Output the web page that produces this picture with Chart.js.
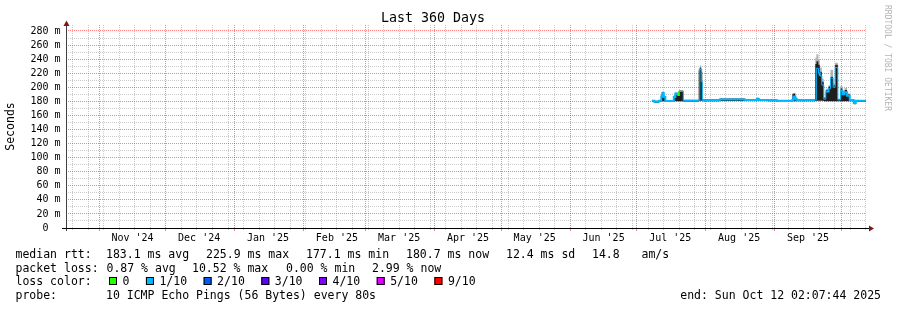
<!DOCTYPE html>
<html>
<head>
<meta charset="utf-8">
<title>Last 360 Days</title>
<script src="https://cdn.jsdelivr.net/npm/chart.js@4/dist/chart.umd.min.js"></script>
<style>
  html, body { margin: 0; padding: 0; background: #fff; }
  canvas { display: block; }
</style>
</head>
<body>
<canvas id="rtt" width="897" height="310"></canvas>
<script>
// 360 day window, probe local time
const windowStart = '2024-10-17T02:07:44';
const windowEnd = '2025-10-12T02:07:44';

// month grid (red) and labels, weekly grid (grey), y grid every 10 ms
const monthStarts = ['2024-11-01', '2024-12-01', '2025-01-01', '2025-02-01', '2025-03-01', '2025-04-01',
                     '2025-05-01', '2025-06-01', '2025-07-01', '2025-08-01', '2025-09-01', '2025-10-01'];
const monthLabels = ["Nov '24", "Dec '24", "Jan '25", "Feb '25", "Mar '25", "Apr '25",
                     "May '25", "Jun '25", "Jul '25", "Aug '25", "Sep '25"];
const firstWeekLine = '2024-10-20';
const yTicks = [0, 10, 20, 30, 40, 50, 60, 70, 80, 90, 100, 110, 120, 130, 140,
                150, 160, 170, 180, 190, 200, 210, 220, 230, 240, 250, 260, 270, 280];

// samples: each value holds until the next sample time (ms)
const sampleTimes = [
  '2025-07-07T17:00', '2025-07-08T20:00', '2025-07-10T21:00', '2025-07-11T23:00', '2025-07-12T10:00',
  '2025-07-13T02:00', '2025-07-13T19:00', '2025-07-17T14:00', '2025-07-18T07:00', '2025-07-19T04:00',
  '2025-07-19T21:00', '2025-07-21T21:00', '2025-07-28T19:00', '2025-07-29T07:00', '2025-07-29T23:00',
  '2025-07-30T10:00', '2025-08-07T07:00', '2025-08-18T13:00', '2025-08-23T23:00', '2025-08-24T21:00',
  '2025-08-28T22:00', '2025-09-01T23:00', '2025-09-08T22:00', '2025-09-09T09:00', '2025-09-10T07:00',
  '2025-09-10T23:00', '2025-09-19T06:00', '2025-09-19T18:00', '2025-09-20T17:00', '2025-09-21T07:00',
  '2025-09-22T05:00', '2025-09-23T02:00', '2025-09-24T00:00', '2025-09-25T05:00', '2025-09-26T03:00',
  '2025-09-27T07:00', '2025-09-28T05:00', '2025-09-29T10:00', '2025-09-30T15:00', '2025-10-01T12:00',
  '2025-10-02T10:00', '2025-10-03T14:00', '2025-10-04T19:00', '2025-10-06T14:00', '2025-10-07T12:00',
  '2025-10-12T02:07'
];
const medianRtt = [
  181, 179.5, 181, 187, 192, 186, 180.5, 186, 191, 189,
  194, 181, 181.5, 226, 208, 181.5, 182.5, 182, 183.5, 182,
  181.5, 181, 182, 187, 183, 182, 182, 227, 220, 216,
  203, 183, 194, 198, 213, 200, 228, 182, 195, 190,
  193, 188, 182, 177.5, 181, 181
];
// index into lossColors (0 = no loss, 1 = 1/10 ...)
const lossLevel = [
  1, 1, 1, 1, 1, 1, 1, 1, 1, 0,
  1, 1, 1, 1, 1, 1, 1, 1, 1, 1,
  1, 1, 1, 1, 1, 1, 1, 1, 1, 1,
  1, 1, 1, 1, 1, 1, 1, 1, 1, 1,
  1, 1, 1, 1, 1, 1
];
const smokeLow = [
  179.5, 178, 179.5, 180, 180, 180, 179, 180, 180, 180,
  180, 179.5, 180.5, 181, 181, 180, 180.5, 180.5, 181, 180.5,
  180, 180, 180, 180, 180, 180, 180.5, 181, 181, 181,
  181, 180, 180, 180, 180, 180, 180, 180, 180, 180,
  180, 180, 180, 176, 179.5, 179.5
];
const smokeHigh = [
  182, 181, 182, 189, 193, 187, 182, 188, 192, 191,
  195, 182, 224, 228, 222, 182.5, 184, 183.5, 185, 183,
  182.5, 182, 190, 191, 185, 183, 233, 237, 232, 222,
  208, 185, 196, 201, 215, 203, 232, 183, 198.5, 193,
  196, 190, 183, 180, 182, 182
];
const smokePeak = [
  182, 181, 182, 190, 194, 188, 182, 189, 193, 192,
  196, 182.5, 227, 231, 226, 183, 184, 183.5, 185, 183,
  182.5, 182, 191, 192, 186, 183, 242, 247, 240, 228,
  212, 186, 198, 203, 225, 206, 235, 184, 202, 194,
  199, 191, 183, 180, 182, 182
];

const lossLabels = ['0', '1/10', '2/10', '3/10', '4/10', '5/10', '9/10'];
const lossColors = ['#26ff00', '#00b8ff', '#0059ff', '#5e00ff', '#7e00ff', '#dd00ff', '#ff0000'];

const rttStats = ['183.1 ms avg', '225.9 ms max', '177.1 ms min', '180.7 ms now', '12.4 ms sd', '14.8', 'am/s'];
const lossStats = ['0.87 % avg', '10.52 % max', '0.00 % min', '2.99 % now'];
const probeText = '10 ICMP Echo Pings (56 Bytes) every 80s';
const endText = 'end: Sun Oct 12 02:07:44 2025';

const MONO = '"DejaVu Sans Mono", monospace';
const GRID = 'rgba(140,140,140,0.45)';
const MGRID = 'rgba(255,0,0,0.5)';
const DAY = 86400000;

const ts = s => new Date(s.length === 10 ? s + 'T00:00' : s).getTime();
const pts = arr => sampleTimes.map((t, i) => ({ x: ts(t), y: arr[i] }));

const monthTicks = monthStarts.map(s => ({ value: ts(s) }));
const weekTicks = [];
for (let t = ts(firstWeekLine); t < ts(windowEnd); t += 7 * DAY) {
    if (!monthTicks.some(m => m.value === t)) weekTicks.push({ value: t });
}
const labelTicks = monthStarts.slice(0, monthLabels.length).map(s => ({ value: ts(s) + 15 * DAY }));
const yMajor = yTicks.filter(v => v % 20 === 0);
const yMinor = yTicks.filter(v => v % 20 !== 0);

function arrow(ctx, p, color) {
    ctx.fillStyle = color;
    ctx.beginPath();
    ctx.moveTo(p[0], p[1]);
    ctx.lineTo(p[2], p[3]);
    ctx.lineTo(p[4], p[5]);
    ctx.closePath();
    ctx.fill();
}

const rrdDecor = {
    id: 'rrdDecor',
    afterDatasetsDraw(chart) {
        const { ctx, chartArea: a } = chart;
        ctx.save();
        ctx.lineWidth = 1;
        ctx.strokeStyle = '#404040';
        ctx.beginPath();
        ctx.moveTo(a.left + 0.5, a.bottom + 3);
        ctx.lineTo(a.left + 0.5, a.top - 3);
        ctx.stroke();
        ctx.strokeStyle = '#000';
        ctx.beginPath();
        ctx.moveTo(a.left - 4, a.bottom + 0.5);
        ctx.lineTo(a.right + 3, a.bottom + 0.5);
        ctx.stroke();
        arrow(ctx, [a.left - 2.5, a.top + 1, a.left + 3.5, a.top + 1, a.left + 0.5, a.top - 4.5], '#801818');
        arrow(ctx, [a.right + 3, a.bottom - 2.5, a.right + 3, a.bottom + 3.5, a.right + 8, a.bottom + 0.5], '#801818');
        ctx.restore();
    },
    afterDraw(chart) {
        const ctx = chart.ctx;
        ctx.save();
        ctx.fillStyle = '#000';
        ctx.font = '11.5px ' + MONO;
        ctx.textBaseline = 'alphabetic';
        ctx.textAlign = 'left';
        const rows = [258, 271.5, 285, 299];

        ctx.fillText('median rtt:', 15.5, rows[0]);
        [106, 206, 306, 406, 506, 592, 641.5].forEach((x, i) => ctx.fillText(rttStats[i], x, rows[0]));

        ctx.fillText('packet loss:', 15.5, rows[1]);
        [106.5, 192, 286, 372].forEach((x, i) => ctx.fillText(lossStats[i], x, rows[1]));

        ctx.fillText('loss color:', 15.5, rows[2]);
        let x = 109;
        lossLabels.forEach((lbl, i) => {
            ctx.fillStyle = lossColors[i];
            ctx.fillRect(x, rows[2] - 8, 8, 8);
            ctx.strokeStyle = '#000';
            ctx.lineWidth = 1;
            ctx.strokeRect(x + 0.5, rows[2] - 7.5, 7, 7);
            ctx.fillStyle = '#000';
            ctx.fillText(lbl, x + 13.5, rows[2]);
            x += 13.5 + ctx.measureText(lbl).width + 16.5;
        });

        ctx.fillText('probe:', 15.5, rows[3]);
        ctx.fillText(probeText, 106, rows[3]);
        ctx.textAlign = 'right';
        ctx.fillText(endText, 881, rows[3]);

        // watermark
        ctx.translate(887, 5);
        ctx.rotate(Math.PI / 2);
        ctx.textAlign = 'left';
        ctx.textBaseline = 'middle';
        ctx.font = '8px ' + MONO;
        ctx.fillStyle = '#b4b4b4';
        ctx.fillText('RRDTOOL / TOBI OETIKER', 0, 0);
        ctx.restore();
    }
};

const xMin = ts(windowStart);
const xMax = ts(windowEnd);

// thin the median where it jumps, so the smoke bars stay visible
const medianWidth = c => (Math.abs(medianRtt[c.p1DataIndex] - medianRtt[c.p0DataIndex]) > 6 ? 1 : 2);

// a grid-only axis: fixed ticks, no labels, zero size
const gridAxis = (pos, ticks, color, weight, tickLen) => ({
    type: 'linear', position: pos, weight,
    afterBuildTicks: axis => { axis.ticks = ticks.map(t => (typeof t === 'number' ? { value: t } : { ...t })); },
    afterFit: axis => { if (pos === 'bottom') axis.height = 0; else axis.width = 0; },
    ticks: { display: false, autoSkip: false },
    border: { display: false, dash: [1, 1] },
    grid: { color, lineWidth: 1, drawTicks: tickLen > 0, tickLength: tickLen }
});

new Chart(document.getElementById('rtt'), {
    type: 'line',
    data: {
        datasets: [
            {
                label: 'median rtt', data: pts(medianRtt), stepped: 'before', order: 0,
                borderWidth: 2, pointRadius: 0, fill: false, borderColor: lossColors[1],
                segment: {
                    borderColor: c => lossColors[lossLevel[c.p0DataIndex]],
                    borderWidth: medianWidth
                }
            },
            {
                label: 'smoke peak', data: pts(smokePeak), stepped: 'before', order: 3,
                borderWidth: 0, borderColor: 'rgba(0,0,0,0)', pointRadius: 0, fill: 2, backgroundColor: '#b4b4b4'
            },
            {
                label: 'smoke', data: pts(smokeHigh), stepped: 'before', order: 2,
                borderWidth: 0, borderColor: 'rgba(0,0,0,0)', pointRadius: 0, fill: 3, backgroundColor: '#1e1e1e'
            },
            {
                label: 'smoke low', data: pts(smokeLow), stepped: 'before', order: 1,
                borderWidth: 0, borderColor: 'rgba(0,0,0,0)', pointRadius: 0, fill: false
            }
        ]
    },
    options: {
        responsive: false,
        animation: false,
        devicePixelRatio: 1,
        layout: { padding: { left: 0, right: 31, top: 0, bottom: 62 } },
        plugins: {
            legend: { display: false },
            tooltip: { enabled: false },
            title: {
                display: true, text: 'Last 360 Days', color: '#000',
                font: { family: MONO, size: 13.3, weight: 'normal', lineHeight: 1 },
                padding: { top: 11.7, bottom: 0 }
            }
        },
        scales: {
            x: { ...gridAxis('bottom', weekTicks, GRID, 0, 2), min: xMin, max: xMax },
            xm: { ...gridAxis('bottom', monthTicks, MGRID, 0, 3), min: xMin, max: xMax },
            xl: {
                type: 'linear', position: 'bottom', min: xMin, max: xMax, weight: 2,
                afterBuildTicks: axis => { axis.ticks = labelTicks.map(t => ({ ...t })); },
                afterFit: axis => { axis.height = 20; },
                ticks: {
                    autoSkip: false, maxRotation: 0, padding: 4, color: '#000',
                    font: { family: MONO, size: 10 },
                    callback: (v, i) => monthLabels[i]
                },
                border: { display: false },
                grid: { display: false, drawTicks: false }
            },
            ym: { ...gridAxis('left', yMinor, GRID, 2, 0), min: 0, max: 288.5 },
            y: {
                type: 'linear', position: 'left', min: 0, max: 288.5, weight: 0,
                afterBuildTicks: axis => { axis.ticks = yMajor.map(v => ({ value: v })); },
                afterFit: axis => { axis.width = 66; },
                ticks: {
                    autoSkip: false, padding: 5.5, color: '#000',
                    font: { family: MONO, size: 10 },
                    callback: v => (v === 0 ? '0  ' : v + ' m')
                },
                border: { display: false, dash: [1, 1] },
                grid: { color: MGRID, lineWidth: 1, drawTicks: false },
                title: {
                    display: true, text: 'Seconds', color: '#000',
                    font: { family: MONO, size: 11.5 },
                    padding: { top: 4, bottom: 0 }
                }
            }
        }
    },
    plugins: [rrdDecor]
});
</script>
</body>
</html>
